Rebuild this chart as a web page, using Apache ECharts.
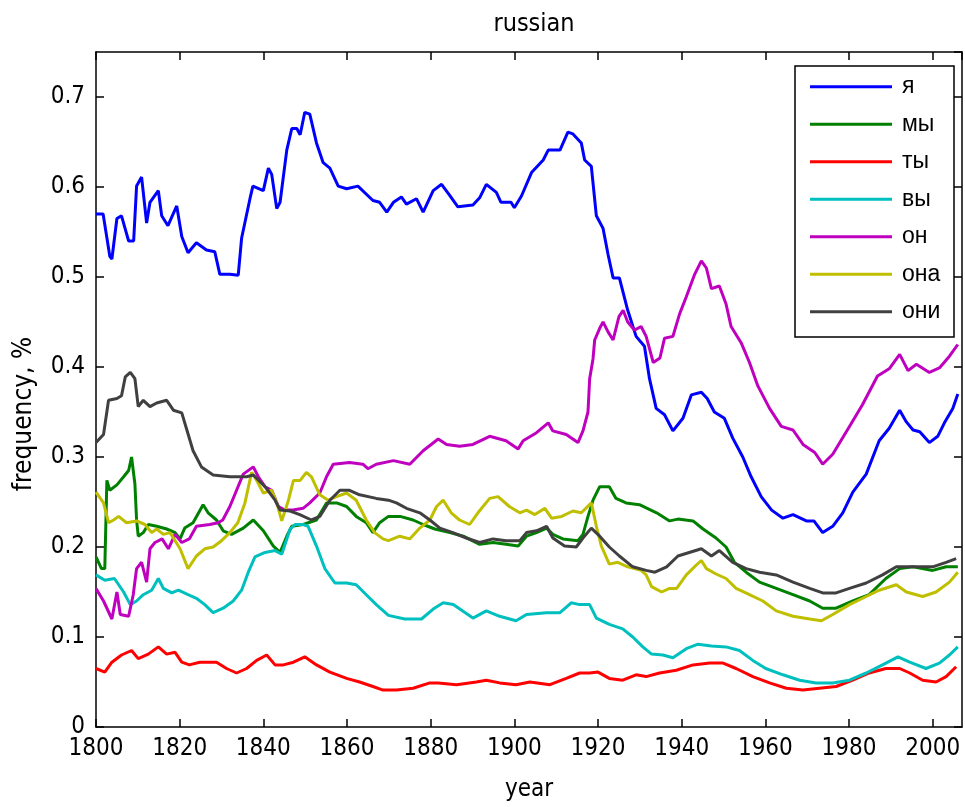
<!DOCTYPE html>
<html>
<head>
<meta charset="utf-8">
<script src="https://cdn.jsdelivr.net/npm/echarts@6/dist/echarts.min.js"></script>
<style>html,body{margin:0;padding:0;background:#fff}#c{width:965px;height:807px}</style>
</head>
<body>
<div id="c"></div>
<script>
// ---- data ----
const seriesNames = ['я', 'мы', 'ты', 'вы', 'он', 'она', 'они'];
const xTickValues = [1800, 1820, 1840, 1860, 1880, 1900, 1920, 1940, 1960, 1980, 2000];
const yTickValues = [0, 0.1, 0.2, 0.3, 0.4, 0.5, 0.6, 0.7];

const yaYears = [1800,1801.7,1803.3,1803.8,1805,1806.1,1807.8,1809,1809.7,1810.9,1812.1,1812.9,1814.9,1815.7,1817.2,1819.3,1820.5,1822,1824,1826.4,1828.4,1829.6,1832,1834,1834.8,1836.8,1837.5,1840,1841.2,1842,1843.2,1844,1845.6,1846.8,1848,1848.8,1849.9,1851.1,1852.7,1854.3,1855.9,1857.9,1859.9,1862.6,1866.2,1867.8,1869.5,1871.1,1873,1874.2,1876.6,1878.2,1880.6,1882.6,1884.5,1886.5,1890.1,1891.7,1893.3,1895.7,1896.8,1899.2,1900,1901.7,1904.1,1906.9,1908.1,1910.9,1912.8,1914,1916,1916.8,1918.4,1919.6,1921.2,1922.4,1923.6,1925.1,1927.1,1929.1,1931.1,1932.3,1933.9,1935.9,1937.9,1940.3,1942.3,1944.7,1946.1,1947.8,1950.2,1952.2,1954.6,1956.6,1959,1961.5,1964.2,1966.6,1969.8,1971.6,1973.7,1976.1,1978.5,1980.9,1984.1,1987.2,1989.6,1992.1,1993.7,1995.3,1996.9,1999.2,2001.2,2002.8,2004.8,2006];
const yaValues = [0.570,0.570,0.523,0.520,0.565,0.568,0.540,0.540,0.601,0.611,0.560,0.583,0.596,0.568,0.557,0.579,0.545,0.527,0.538,0.530,0.528,0.503,0.503,0.502,0.543,0.587,0.601,0.596,0.621,0.614,0.576,0.583,0.641,0.665,0.665,0.658,0.683,0.681,0.649,0.627,0.621,0.601,0.598,0.601,0.585,0.583,0.572,0.583,0.589,0.581,0.587,0.572,0.596,0.603,0.591,0.578,0.580,0.588,0.603,0.594,0.583,0.583,0.577,0.590,0.616,0.630,0.641,0.641,0.661,0.659,0.649,0.630,0.623,0.568,0.554,0.525,0.499,0.499,0.463,0.434,0.423,0.387,0.354,0.347,0.329,0.343,0.369,0.372,0.365,0.350,0.343,0.321,0.300,0.278,0.256,0.241,0.232,0.236,0.229,0.229,0.216,0.223,0.238,0.261,0.281,0.318,0.332,0.352,0.339,0.330,0.328,0.316,0.323,0.338,0.354,0.370];

const myYears = [1800,1801.3,1802.1,1802.6,1803.3,1805,1806.6,1807.8,1808.5,1808.9,1809.3,1809.7,1810.1,1811.3,1812.5,1814.5,1816.9,1818.9,1820.1,1821.2,1823.2,1825.6,1826.8,1828.8,1830.4,1832.4,1835.2,1837.6,1840,1842.4,1844,1845.6,1846.8,1849.5,1852.7,1855.1,1857.5,1859.9,1862.2,1864.6,1866.2,1867.8,1869.9,1872.7,1875.8,1878.2,1881,1884.6,1887.8,1891.7,1894.9,1898,1900.9,1902.9,1905.3,1907.7,1909.2,1911.6,1915.2,1916.4,1917.6,1918.8,1920.4,1922.7,1924.3,1926.7,1929.9,1934,1937.1,1939.1,1942.7,1945.1,1948.2,1950.6,1952.6,1955.4,1958.6,1962.6,1966.6,1970.6,1973.7,1976.9,1980.9,1984.8,1988.8,1992.1,1995.3,2000,2003.2,2006];
const myValues = [0.189,0.176,0.176,0.274,0.263,0.269,0.278,0.285,0.300,0.300,0.270,0.230,0.212,0.216,0.225,0.223,0.220,0.216,0.209,0.221,0.227,0.247,0.238,0.230,0.218,0.214,0.221,0.230,0.218,0.201,0.194,0.212,0.223,0.225,0.230,0.249,0.249,0.245,0.234,0.227,0.216,0.227,0.234,0.234,0.230,0.225,0.220,0.216,0.212,0.203,0.205,0.203,0.201,0.212,0.216,0.221,0.214,0.209,0.207,0.214,0.234,0.252,0.267,0.267,0.254,0.249,0.247,0.238,0.229,0.231,0.229,0.220,0.210,0.200,0.183,0.172,0.161,0.154,0.147,0.140,0.132,0.132,0.140,0.147,0.165,0.176,0.178,0.174,0.178,0.178];

const tyYears = [1800,1802.1,1803.8,1806.1,1808.5,1810.1,1812.5,1814.9,1816.9,1818.9,1820.5,1822.3,1824.8,1828.8,1831.2,1833.6,1836,1838.4,1840.8,1842.8,1844.8,1847.2,1849.9,1852.7,1855.9,1859.9,1863,1866.2,1868.6,1871.8,1875.8,1879.8,1881.8,1886.2,1890.9,1893.3,1896.5,1900.4,1903.7,1908.5,1912.4,1915.6,1918,1920,1922.7,1925.9,1929.1,1931.5,1934.7,1938.7,1942.7,1946.7,1949.9,1953,1957,1961,1965,1969,1972.9,1976.9,1980.9,1984.8,1988.8,1992.1,1994.5,1997.6,2000.8,2003.2,2005.6];
const tyValues = [0.065,0.061,0.072,0.080,0.085,0.076,0.081,0.089,0.081,0.083,0.072,0.069,0.072,0.072,0.065,0.060,0.065,0.074,0.080,0.069,0.069,0.072,0.078,0.069,0.061,0.054,0.050,0.045,0.041,0.041,0.043,0.049,0.049,0.047,0.050,0.052,0.049,0.047,0.050,0.047,0.054,0.060,0.060,0.061,0.054,0.052,0.058,0.056,0.060,0.063,0.069,0.071,0.071,0.065,0.056,0.049,0.043,0.041,0.043,0.045,0.052,0.060,0.065,0.065,0.060,0.052,0.050,0.056,0.067];

const vyYears = [1800,1802.1,1804.4,1806.6,1808.2,1809.7,1811.3,1813.3,1814.9,1816.1,1818.1,1819.7,1822,1824,1826,1828,1830.4,1832.8,1834.8,1836.4,1838,1840.4,1842.8,1844.4,1846.4,1847.6,1849.5,1850.7,1852.7,1854.7,1857.1,1859.9,1862.2,1864.6,1867,1869.9,1873.8,1877.8,1880.6,1883,1885.4,1890.1,1893.3,1896.5,1900.4,1902.9,1907.7,1910.9,1913.6,1915.6,1918,1919.6,1922.7,1925.9,1928.3,1930.7,1932.8,1935.5,1937.9,1941.1,1943.9,1947.1,1950.6,1953.8,1957,1960.1,1964.2,1968.2,1972.1,1976.1,1980.1,1984.1,1988,1991.7,1994.5,1998.4,2001.6,2004,2006];
const vyValues = [0.169,0.163,0.165,0.150,0.136,0.140,0.147,0.152,0.165,0.154,0.149,0.152,0.147,0.143,0.136,0.127,0.132,0.140,0.152,0.172,0.189,0.194,0.196,0.192,0.220,0.225,0.225,0.223,0.201,0.176,0.160,0.160,0.158,0.147,0.136,0.124,0.120,0.120,0.131,0.138,0.136,0.121,0.129,0.123,0.118,0.125,0.127,0.127,0.138,0.136,0.136,0.121,0.114,0.109,0.100,0.089,0.081,0.080,0.077,0.087,0.092,0.090,0.089,0.085,0.074,0.065,0.058,0.052,0.049,0.049,0.052,0.060,0.069,0.078,0.072,0.065,0.071,0.080,0.089];

const onYears = [1800,1801.8,1803.8,1805,1805.8,1807.8,1808.9,1809.7,1810.9,1812.1,1812.9,1814.1,1815.8,1817.3,1818.9,1820.5,1822.3,1824,1827.2,1829.2,1830.3,1832,1833.6,1835.2,1837.6,1838.8,1840.4,1842,1843.6,1845.2,1847.1,1849.5,1851.1,1853.5,1855.1,1856.7,1860.6,1863.8,1865,1867,1871.1,1875,1878.2,1881.8,1883.8,1886.9,1890.1,1894.1,1898,1900.9,1902.1,1905.3,1908.1,1909.2,1912.4,1915.2,1916.4,1917.6,1918,1918.8,1919.2,1920.4,1921.2,1922.4,1923.6,1925,1926,1927.1,1928.7,1930.3,1931.5,1933.2,1934.8,1935.9,1937.9,1939.5,1941.1,1943.1,1944.7,1945.9,1947.1,1949,1950.6,1951.8,1954.2,1956.2,1958.2,1961,1963.8,1966.6,1969,1971.8,1973.7,1976.1,1980.1,1983.2,1986.8,1989.6,1992.1,1994.1,1996.1,1999.2,2001.6,2004,2006];
const onValues = [0.154,0.140,0.120,0.150,0.125,0.123,0.147,0.176,0.183,0.161,0.198,0.205,0.209,0.198,0.214,0.205,0.209,0.223,0.225,0.227,0.230,0.245,0.263,0.281,0.289,0.278,0.267,0.263,0.245,0.241,0.241,0.243,0.249,0.260,0.278,0.292,0.294,0.292,0.287,0.292,0.296,0.292,0.307,0.320,0.314,0.312,0.314,0.323,0.318,0.309,0.318,0.327,0.338,0.329,0.325,0.316,0.329,0.350,0.387,0.409,0.430,0.443,0.450,0.439,0.430,0.456,0.463,0.450,0.441,0.445,0.434,0.405,0.410,0.432,0.434,0.459,0.478,0.503,0.518,0.510,0.487,0.490,0.470,0.445,0.427,0.405,0.379,0.354,0.334,0.330,0.314,0.305,0.292,0.303,0.334,0.358,0.390,0.398,0.414,0.396,0.403,0.394,0.399,0.412,0.425];

const onaYears = [1800,1801.8,1803,1804.2,1805.4,1807.3,1809.7,1811.7,1813.3,1814.5,1816.1,1817.7,1820.1,1822,1824,1826,1828,1830,1832,1833.9,1835.6,1837.2,1838.4,1840,1842,1843.2,1844.4,1846,1847.2,1848.8,1850.3,1851.5,1853.5,1855.5,1857.5,1859.9,1862.2,1864.6,1866.6,1868.6,1869.9,1872.6,1875,1877.4,1879.8,1881.4,1883,1884.9,1886.9,1889.3,1891.3,1894.1,1896.1,1898.8,1901.3,1902.9,1904.9,1907.3,1908.9,1911.3,1914,1916,1918.4,1919.6,1920.8,1922.7,1924.7,1927.1,1930.3,1931.5,1932.8,1935.2,1937.1,1938.8,1941.1,1943.5,1944.7,1945.9,1948.2,1950.6,1953,1956.2,1959.4,1962.6,1966.6,1970.6,1973.4,1976.1,1980.1,1984.1,1987.2,1991.3,1993.7,1997.6,2000.8,2004,2006];
const onaValues = [0.261,0.249,0.227,0.230,0.234,0.227,0.229,0.225,0.216,0.220,0.214,0.216,0.198,0.176,0.190,0.198,0.200,0.207,0.216,0.227,0.249,0.283,0.274,0.260,0.263,0.249,0.229,0.252,0.274,0.274,0.283,0.278,0.258,0.252,0.256,0.260,0.252,0.230,0.216,0.209,0.207,0.212,0.209,0.221,0.230,0.245,0.252,0.238,0.230,0.225,0.238,0.254,0.256,0.245,0.238,0.241,0.236,0.243,0.232,0.234,0.240,0.238,0.249,0.223,0.201,0.181,0.183,0.178,0.174,0.169,0.156,0.150,0.154,0.154,0.169,0.180,0.185,0.176,0.170,0.165,0.154,0.147,0.140,0.129,0.123,0.120,0.118,0.125,0.136,0.145,0.152,0.158,0.150,0.145,0.150,0.161,0.172];

const oniYears = [1800,1801.8,1803,1805,1806.1,1807,1808.2,1809.3,1810.1,1811.3,1812.9,1814.5,1816.9,1818.5,1820.5,1821.6,1823.2,1825.2,1828,1832,1836,1837.6,1840.4,1842.8,1844,1846.4,1848.7,1851.5,1853.5,1855.9,1858.3,1860.6,1863,1867,1869.9,1871.8,1874.2,1877.4,1879.8,1882.2,1885.3,1888.5,1891.7,1894.9,1898,1901.3,1902.9,1905.3,1907.7,1909.2,1912,1914.8,1916.4,1918.4,1920.4,1922.7,1925.1,1928.3,1931.5,1933.6,1936.4,1939.1,1944.7,1947.1,1949,1952.2,1955.4,1958.6,1962.6,1966.6,1970.6,1973.7,1976.9,1980.1,1984.1,1988,1991.3,1995.3,2000,2003.2,2005.6];
const oniValues = [0.316,0.325,0.363,0.365,0.368,0.389,0.394,0.387,0.356,0.363,0.356,0.360,0.363,0.352,0.349,0.332,0.307,0.289,0.280,0.278,0.278,0.280,0.267,0.252,0.241,0.240,0.236,0.230,0.234,0.252,0.263,0.263,0.258,0.254,0.252,0.249,0.243,0.238,0.230,0.221,0.216,0.210,0.205,0.209,0.207,0.207,0.216,0.218,0.223,0.210,0.201,0.200,0.210,0.221,0.212,0.200,0.190,0.178,0.174,0.172,0.178,0.190,0.198,0.190,0.196,0.183,0.176,0.172,0.169,0.161,0.154,0.149,0.149,0.154,0.160,0.169,0.178,0.178,0.178,0.183,0.187];

const seriesYears = [yaYears, myYears, tyYears, vyYears, onYears, onaYears, oniYears];
const seriesValues = [yaValues, myValues, tyValues, vyValues, onValues, onaValues, oniValues];
const seriesColors = ['#0000ff', '#008000', '#ff0000', '#00bfbf', '#bf00bf', '#bfbf00', '#404040'];

// ---- chart ----
const COND = "'DejaVu Sans Condensed', 'Liberation Sans Narrow', 'Liberation Sans', sans-serif";
const REGULAR = "'Liberation Sans', Arial, sans-serif";
const chart = echarts.init(document.getElementById('c'), null, {renderer: 'canvas'});

const axisLineStyle = {color: '#000', width: 1.5};
function xAx(pos, labels) {
  return {
    type: 'value', position: pos, min: 1800, max: 2007, interval: 20,
    axisLine: {show: true, onZero: false, lineStyle: axisLineStyle},
    axisTick: {show: true, inside: true, length: 8, lineStyle: axisLineStyle},
    axisLabel: {show: labels, showMaxLabel: false, color: '#000', fontFamily: COND, fontSize: 24, margin: 10,
      formatter: v => xTickValues.includes(v) ? String(v) : ''},
    splitLine: {show: false}
  };
}
function yAx(pos, labels) {
  return {
    type: 'value', position: pos, min: 0, max: 0.75, interval: 0.1,
    axisLine: {show: true, onZero: false, lineStyle: axisLineStyle},
    axisTick: {show: true, inside: true, length: 8, lineStyle: axisLineStyle},
    axisLabel: {show: labels, showMaxLabel: false, color: '#000', fontFamily: COND, fontSize: 24, margin: 11,
      formatter: v => { const t = yTickValues.find(x => Math.abs(x - v) < 1e-9); return t === undefined ? '' : String(t); }},
    splitLine: {show: false}
  };
}

const xBottom = Object.assign(xAx('bottom', true), {name: 'year', nameLocation: 'middle', nameGap: 51,
  nameTextStyle: {color: '#000', fontFamily: COND, fontSize: 24}});

const option = {
  animation: false,
  backgroundColor: '#fff',
  title: {text: 'russian', left: 529, top: 7, textAlign: 'center',
    textStyle: {color: '#000', fontFamily: COND, fontSize: 25, fontWeight: 'normal'}},
  grid: {left: 96, right: 3, top: 52, bottom: 70, containLabel: false},
  xAxis: [xBottom, xAx('top', false)],
  yAxis: [yAx('left', true), yAx('right', false)],
  legend: {
    orient: 'vertical', left: 810, top: 68, padding: 0, itemGap: 0,
    itemWidth: 82, itemHeight: 3, icon: 'rect', z: 10,
    textStyle: {color: '#000', fontFamily: REGULAR, fontSize: 23, lineHeight: 37.5, padding: [0, 0, 0, 5]},
    data: seriesNames
  },
  graphic: [
    {type: 'rect', z: 5, shape: {x: 795, y: 66, width: 159, height: 271},
      style: {fill: '#fff', stroke: '#000', lineWidth: 1.5}},
    {type: 'text', z: 5, x: 24, y: 414, rotation: Math.PI / 2,
      style: {text: 'frequency, %', fill: '#000', font: "26px " + COND, textAlign: 'center', textVerticalAlign: 'middle'}}
  ],
  series: seriesNames.map((name, i) => ({
    name: name, type: 'line', xAxisIndex: 0, yAxisIndex: 0,
    showSymbol: false, symbol: 'none',
    color: seriesColors[i],
    lineStyle: {color: seriesColors[i], width: 3},
    data: seriesYears[i].map((yr, j) => [yr, seriesValues[i][j]])
  }))
};
chart.setOption(option);
</script>
</body>
</html>
